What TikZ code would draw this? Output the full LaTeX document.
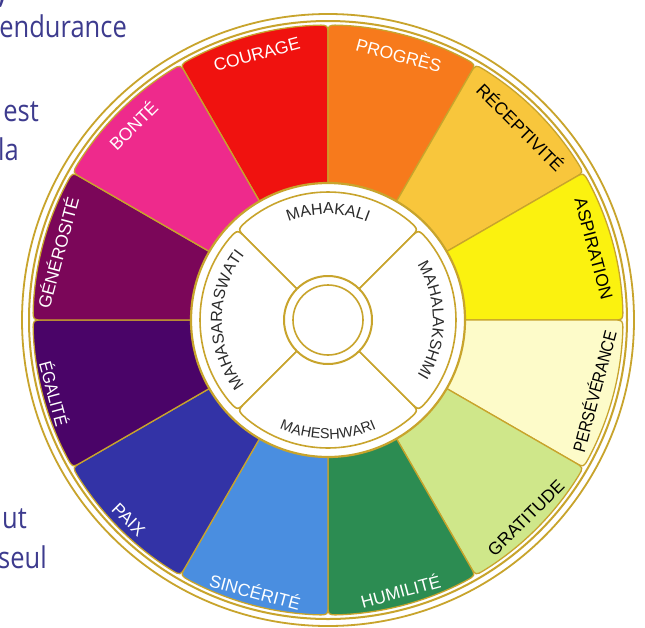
\documentclass[tikz,border=0pt]{standalone}
\usepackage{fontspec}
\setmainfont{Liberation Sans}
\newfontfamily\sidefont{Open Sans}
\usetikzlibrary{decorations.text}
\definecolor{gold}{HTML}{C8A42C}
\definecolor{cCour}{HTML}{F0120F}
\definecolor{cProg}{HTML}{F77A1C}
\definecolor{cRec}{HTML}{F8C63C}
\definecolor{cAsp}{HTML}{FBF20F}
\definecolor{cPers}{HTML}{FDFBC9}
\definecolor{cGrat}{HTML}{CFE78A}
\definecolor{cHum}{HTML}{2C8C52}
\definecolor{cSinc}{HTML}{4A8EE0}
\definecolor{cPaix}{HTML}{3333A6}
\definecolor{cEga}{HTML}{4A0468}
\definecolor{cGen}{HTML}{7B0659}
\definecolor{cBon}{HTML}{EE2A8C}
\definecolor{sidetext}{HTML}{3D3B8E}
\definecolor{innertext}{HTML}{2B2B2B}
\newcommand\wheelseg[2]{%
  \pgfmathsetmacro\sA{#1}\pgfmathsetmacro\sB{#1+30}%
  \pgfmathsetmacro\dA{#1+2.0}\pgfmathsetmacro\dB{#1+28.0}%
  \filldraw[fill=#2, draw=gold, line width=1.3]
    (\sA:120) -- (\sA:285) .. controls (\sA:295) .. (\dA:295)
    arc[start angle=\dA, end angle=\dB, radius=295]
    .. controls (\sB:295) .. (\sB:285) -- (\sB:120) -- cycle;}
\newcommand\petal[1]{%
  \pgfmathsetmacro\pA{#1}\pgfmathsetmacro\pB{#1+90}%
  \pgfmathsetmacro\qA{#1+5.5}\pgfmathsetmacro\qB{#1+84.5}%
  \filldraw[fill=white, draw=gold, line width=1.6]
    (\pA:44) -- (\pA:116) .. controls (\pA:128) .. (\qA:128)
    arc[start angle=\qA, end angle=\qB, radius=128]
    .. controls (\pB:128) .. (\pB:116) -- (\pB:44);}
\tikzset{
  lab/.style={inner sep=0, font=\fontsize{17.5}{17.5}\selectfont},
  side/.style={anchor=base east, inner sep=0, text=sidetext, font=\sidefont\fontsize{30}{30}\selectfont},
}
\begin{document}
\begin{tikzpicture}[x=1pt,y=1pt]
\useasboundingbox (0,0) rectangle (645,-627);
\fill[white] (0,0) rectangle (645,-627);
% side text fragments
\node[side] (t0) at (6,-3) {,};
\node[side] (t1) at (127,-37) {\scalebox{0.85}[1]{endurance}};
\node[side] (t2) at (39,-121) {\scalebox{0.85}[1]{est}};
\node[side] (t3) at (19,-160) {\scalebox{0.85}[1]{la}};
\node[side] (t4) at (27,-528) {\scalebox{0.85}[1]{ut}};
\node[side] (t5) at (47,-568) {\scalebox{0.85}[1]{seul}};
\begin{scope}[shift={(328,-320)}]
  \fill[white] (0,0) circle (307);
  \draw[gold, line width=1.8] (0,0) circle (306);
  \draw[gold, line width=2] (0,0) circle (299);
  \wheelseg{90}{cCour}
  \wheelseg{60}{cProg}
  \wheelseg{30}{cRec}
  \wheelseg{0}{cAsp}
  \wheelseg{-30}{cPers}
  \wheelseg{-60}{cGrat}
  \wheelseg{-90}{cHum}
  \wheelseg{-120}{cSinc}
  \wheelseg{-150}{cPaix}
  \wheelseg{180}{cEga}
  \wheelseg{150}{cGen}
  \wheelseg{120}{cBon}
  % labels
  \node[lab, text=white, rotate=15] (lCour) at (105:275) {COURAGE};
  \node[lab, text=white, rotate=-15] (lProg) at (75:275) {PROGRÈS};
  \node[lab, text=black, rotate=-45] (lRec) at (45:273) {RÉCEPTIVITÉ};
  \node[lab, text=black, rotate=-75] (lAsp) at (15:275) {ASPIRATION};
  \node[lab, text=black, rotate=75] (lPers) at (-15:275) {\scalebox{0.87}[1]{PERSÉVÉRANCE}};
  \node[lab, text=black, rotate=45] (lGrat) at (-45:280) {GRATITUDE};
  \node[lab, text=white, rotate=15] (lHum) at (-75:280) {HUMILITÉ};
  \node[lab, text=white, rotate=-15] (lSinc) at (-105:281) {SINCÉRITÉ};
  \node[lab, text=white, rotate=-45] (lPaix) at (-135:282) {PAIX};
  \node[lab, text=white, rotate=-75] (lEga) at (-165:283) {\scalebox{0.9}[1]{ÉGALITÉ}};
  \node[lab, text=white, rotate=75] (lGen) at (166:279) {GÉNÉROSITÉ};
  \node[lab, text=white, rotate=45] (lBon) at (135:276) {BONTÉ};
  % hub
  \filldraw[fill=white, draw=gold, line width=2.2] (0,0) circle (137);
  \petal{45}
  \petal{135}
  \petal{225}
  \petal{315}
  \filldraw[fill=white, draw=gold, line width=2] (0,0) circle (44);
  \draw[gold, line width=1.6] (0,0) circle (35);
  % inner names
  \path[decorate, decoration={text along path, text align=center, text color=innertext,
     text={|\fontsize{16}{16}\selectfont|MAHAKALI}}]
     (140:106) arc[start angle=140, end angle=40, radius=106];
  \path[decorate, decoration={text along path, text align=center, text color=innertext,
     text={|\fontsize{16}{16}\selectfont|MAHALAKSHMI}}]
     (50:105) arc[start angle=50, end angle=-50, radius=105];
  \path[decorate, decoration={text along path, text align=center, text color=innertext,
     text={|\fontsize{16}{16}\selectfont|MAHASARASWATI}}]
     (230:106) arc[start angle=230, end angle=130, radius=106];
  \path[decorate, decoration={text along path, text align=center, text color=innertext,
     text={|\fontsize{14.5}{14.5}\selectfont|MAHESHWARI}}]
     (220:119) arc[start angle=220, end angle=320, radius=119];
\end{scope}
\end{tikzpicture}
\end{document}
